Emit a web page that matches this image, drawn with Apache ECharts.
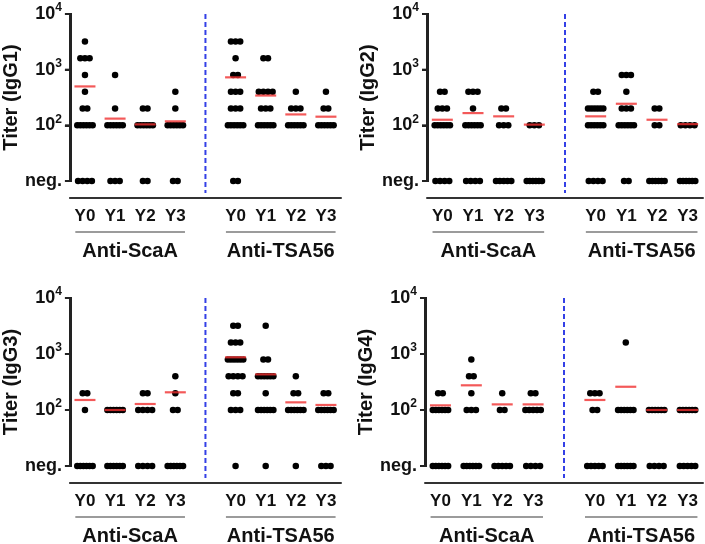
<!DOCTYPE html>
<html><head><meta charset="utf-8">
<script src="https://cdn.jsdelivr.net/npm/echarts@6/dist/echarts.min.js"></script>
<style>html,body{margin:0;padding:0;background:#fff}#c{width:705px;height:544px}</style>
</head><body><div id="c"></div>
<script>
// ---------- data ----------
const categories = ['Y0', 'Y1', 'Y2', 'Y3'];
const groups = ['Anti-ScaA', 'Anti-TSA56'];
const panelNames = ['Titer (IgG1)', 'Titer (IgG2)', 'Titer (IgG3)', 'Titer (IgG4)'];
// titer levels; first one is "neg." (plotted on the neg. tick)
const titerLevels = ['neg.', 100, 200, 400, 800, 1600, 3200];
const NEG = 10; // axis position of the "neg." tick
const yTickValues = [NEG, 100, 1000, 10000]; // labelled neg., 10^2, 10^3, 10^4
// counts of subjects per titer level, per column (ScaA Y0..Y3, TSA56 Y0..Y3)
const igg1Counts = [
  [4, 6, 2, 1, 1, 3, 1], [3, 6, 1, 0, 1, 0, 0], [2, 6, 2, 0, 0, 0, 0], [2, 6, 1, 1, 0, 0, 0],
  [2, 6, 3, 3, 2, 1, 3], [0, 6, 3, 4, 0, 2, 0], [0, 6, 3, 1, 0, 0, 0], [0, 6, 2, 1, 0, 0, 0]
];
const igg2Counts = [
  [4, 6, 3, 2, 0, 0, 0], [4, 6, 1, 3, 0, 0, 0], [5, 3, 2, 0, 0, 0, 0], [6, 3, 0, 0, 0, 0, 0],
  [4, 6, 6, 2, 0, 0, 0], [2, 6, 3, 1, 3, 0, 0], [6, 2, 2, 0, 0, 0, 0], [6, 4, 0, 0, 0, 0, 0]
];
const igg3Counts = [
  [6, 1, 2, 0, 0, 0, 0], [6, 6, 0, 0, 0, 0, 0], [4, 4, 2, 0, 0, 0, 0], [6, 2, 1, 1, 0, 0, 0],
  [1, 3, 2, 4, 6, 3, 2], [1, 6, 1, 6, 2, 0, 1], [1, 6, 2, 1, 0, 0, 0], [3, 6, 2, 0, 0, 0, 0]
];
const igg4Counts = [
  [6, 6, 2, 0, 0, 0, 0], [6, 3, 1, 2, 1, 0, 0], [5, 2, 1, 0, 0, 0, 0], [4, 5, 2, 0, 0, 0, 0],
  [5, 2, 3, 0, 0, 0, 0], [6, 6, 0, 0, 0, 1, 0], [4, 6, 0, 0, 0, 0, 0], [5, 6, 0, 0, 0, 0, 0]
];
// mean titers (red bars)
const igg1Means = [500, 132, 104, 118, 728, 343, 157, 143];
const igg2Means = [126, 166, 145, 103, 145, 244, 126, 105];
const igg3Means = [151, 100, 128, 207, 873, 433, 137, 123];
const igg4Means = [121, 276, 126, 126, 151, 260, 100, 100];

const allCounts = [igg1Counts, igg2Counts, igg3Counts, igg4Counts];
const allMeans = [igg1Means, igg2Means, igg3Means, igg4Means];

// ---------- layout / style ----------
const FONT = 'Liberation Sans, Arial, sans-serif';
const grids = [
  { left: 64, top: 14, width: 277, height: 167 },
  { left: 427, top: 14, width: 276, height: 167 },
  { left: 63, top: 298, width: 278, height: 168 },
  { left: 425, top: 298, width: 278, height: 168 }
];
// slots on the x axis: 4 columns, a gap, 4 columns
const slotKeys = [];
groups.forEach((g, gi) => {
  categories.forEach(c => slotKeys.push(gi + '|' + c));
  if (gi < groups.length - 1) slotKeys.push('gap');
});
const GAP = slotKeys.indexOf('gap');
const slotOf = ci => (ci < categories.length ? ci : ci + 1);
const levelValue = li => (titerLevels[li] === 'neg.' ? NEG : titerLevels[li]);
// horizontal spread of dots sharing a value, as a fraction of a column width
const spread = (n, i) => {
  const dx = n > 1 ? Math.min(0.15, 0.5 / (n - 1)) : 0;
  return (i - (n - 1) / 2) * dx;
};
const AXIS_OFFSET = 17;

const xAxes = [], yAxes = [], series = [];
grids.forEach((g, p) => {
  const band = g.width / slotKeys.length;
  xAxes.push({
    type: 'category', gridIndex: p, data: slotKeys, offset: AXIS_OFFSET,
    axisLine: { show: true, lineStyle: { color: '#333', width: 2 } },
    axisTick: { alignWithLabel: true, length: 5, lineStyle: { color: '#333', width: 2 },
      interval: (i, v) => v !== 'gap' },
    axisLabel: { interval: 0, margin: 10, color: '#111', fontFamily: FONT, fontWeight: 'bold', fontSize: 17,
      formatter: v => (v === 'gap' ? '' : v.split('|')[1]) },
    splitLine: { show: false }
  });
  yAxes.push({
    type: 'log', logBase: 10, gridIndex: p, min: NEG, max: 10000, zlevel: 1,
    name: panelNames[p], nameLocation: 'middle', nameRotate: 90, nameGap: 42,
    nameTextStyle: { fontFamily: FONT, fontWeight: 'bold', fontSize: 20, color: '#111' },
    axisLine: { show: true, lineStyle: { color: '#222', width: 2 } },
    axisTick: { show: true, length: 5, lineStyle: { color: '#222', width: 2 } },
    splitLine: { show: false },
    axisLabel: {
      margin: 8, color: '#111', fontFamily: FONT, fontWeight: 'bold', fontSize: 18,
      formatter: v => (v <= NEG ? 'neg.' : '{b|10}{s|' + Math.round(Math.log10(v)) + '}'),
      rich: {
        b: { fontFamily: FONT, fontWeight: 'bold', fontSize: 18, color: '#111' },
        s: { fontFamily: FONT, fontWeight: 'bold', fontSize: 12, color: '#111', padding: [0, 0, 12, 0] }
      }
    }
  });
  // y axis line and tick marks, placed through the axis scales (drawn on an upper layer)
  series.push({
    type: 'custom', xAxisIndex: p, yAxisIndex: p, clip: false, silent: true, z: 100, zlevel: 2,
    data: yTickValues.map(v => [0, v]),
    renderItem: (params, api) => {
      const bw = api.size([1, 0])[0];
      const c = api.coord([0, api.value(1)]);
      const x = Math.round(c[0] - bw / 2) + 1;
      const children = [{ type: 'line', shape: { x1: x - 6, y1: c[1], x2: x, y2: c[1] },
        style: { stroke: '#222', lineWidth: 2 } }];
      if (params.dataIndex === 0) {
        const top = api.coord([0, yTickValues[yTickValues.length - 1]]);
        children.push({ type: 'line', shape: { x1: x, y1: top[1] - 1, x2: x, y2: c[1] + 1 },
          style: { stroke: '#222', lineWidth: 2 } });
      }
      return { type: 'group', children: children };
    }
  });
  // dots
  const pts = [];
  allCounts[p].forEach((row, ci) => {
    row.forEach((n, li) => {
      for (let i = 0; i < n; i++) {
        pts.push({ value: [slotOf(ci), levelValue(li)], symbolOffset: [spread(n, i) * band, 0] });
      }
    });
  });
  series.push({
    type: 'scatter', xAxisIndex: p, yAxisIndex: p, data: pts, symbolSize: 6.5,
    itemStyle: { color: '#000', opacity: 1 }, clip: false, z: 3, silent: true
  });
  // mean bars
  series.push({
    type: 'scatter', xAxisIndex: p, yAxisIndex: p,
    data: allMeans[p].map((m, ci) => [slotOf(ci), m]),
    symbol: 'rect', symbolSize: [21, 2.2], itemStyle: { color: '#f03030' }, clip: false, z: 4, silent: true
  });
  // group underlines and labels
  series.push({
    type: 'custom', xAxisIndex: p, yAxisIndex: p, clip: false, silent: true, z: 2,
    data: groups.map((gname, gi) => [slotOf(gi * categories.length), slotOf(gi * categories.length + categories.length - 1), gi]),
    renderItem: (params, api) => {
      const bw = api.size([1, 0])[0];
      const a = api.coord([api.value(0), NEG]);
      const b = api.coord([api.value(1), NEG]);
      const x1 = a[0] - 0.32 * bw, x2 = b[0] + 0.32 * bw;
      const yl = a[1] + AXIS_OFFSET + 34;
      return {
        type: 'group', children: [
          { type: 'line', shape: { x1: x1, y1: yl, x2: x2, y2: yl }, style: { stroke: '#7a7a7a', lineWidth: 1.5 } },
          { type: 'text', style: { text: groups[api.value(2)], x: (x1 + x2) / 2, y: yl + 19,
              align: 'center', verticalAlign: 'middle', fontFamily: FONT, fontWeight: 'bold', fontSize: 20, fill: '#111' } }
        ]
      };
    }
  });
  // dashed divider between the two groups
  series.push({
    type: 'custom', xAxisIndex: p, yAxisIndex: p, clip: false, silent: true, z: 1,
    data: [[GAP]],
    renderItem: (params, api) => {
      const t = api.coord([api.value(0), 10000]);
      const b = api.coord([api.value(0), NEG]);
      return { type: 'line', shape: { x1: t[0], y1: t[1], x2: b[0], y2: b[1] + 12 },
        style: { stroke: '#3440e6', lineWidth: 2, lineDash: [5, 3] } };
    }
  });
});

const chart = echarts.init(document.getElementById('c'), null, { renderer: 'canvas' });
chart.setOption({
  animation: false,
  backgroundColor: '#fff',
  grid: grids,
  xAxis: xAxes,
  yAxis: yAxes,
  series: series
});
</script>
</body></html>
